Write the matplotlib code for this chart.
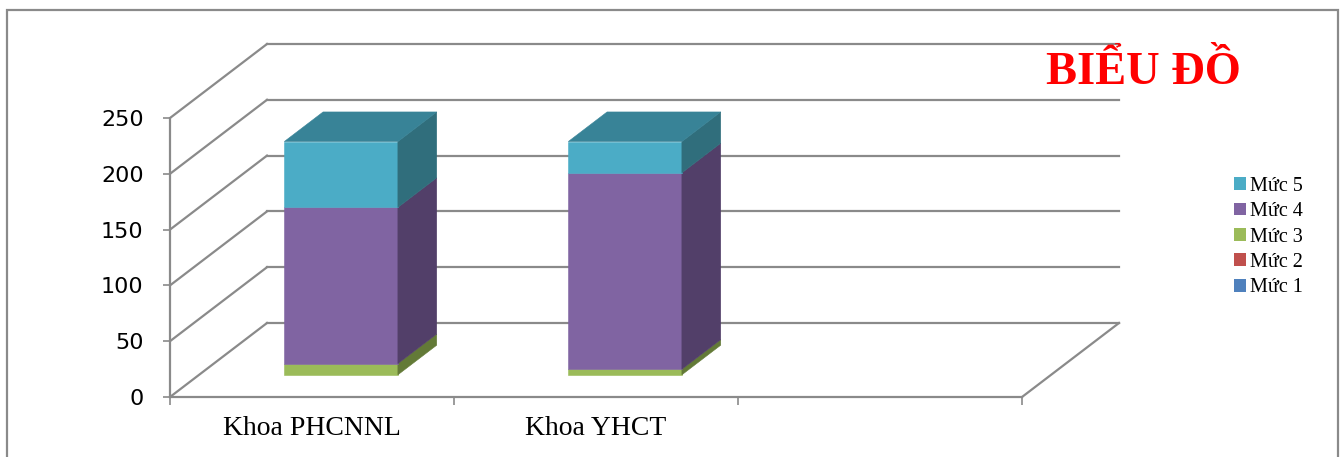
import numpy as np
import matplotlib as mpl
mpl.use("Agg")
import matplotlib.pyplot as plt
from matplotlib.patches import Polygon, Rectangle, Patch

mpl.rcParams.update({"font.family": "DejaVu Sans"})
SERIF = "Liberation Serif"
GRID = "#8a8a8a"

categories = ["Khoa PHCNNL", "Khoa YHCT"]
levels = ["Mức 1", "Mức 2", "Mức 3", "Mức 4", "Mức 5"]
muc1 = [0, 0]
muc2 = [0, 0]
muc3 = [10, 5]
muc4 = [140, 176]
muc5 = [59, 28]
yticks = [0, 50, 100, 150, 200, 250]

# front / side / top shades for each level
front = ["#4F81BD", "#C0504D", "#9BBB59", "#8064A2", "#4BACC6"]
side = ["#3A5F8C", "#8E3B39", "#637A37", "#523F69", "#306E7C"]
top = ["#41699A", "#9C4340", "#7E9848", "#674F85", "#388397"]

# oblique depth of the plot box (category units, value units)
DX, DY = 97 / 284, 74 / 1.116
F1, F2 = 0.3, 0.7      # bar sits between these depth fractions
HALF = 0.2             # half bar width

W, H = 1343, 457
fig = plt.figure(figsize=(W / 100, H / 100), dpi=100)
ax = fig.add_axes([170 / W, 0, 1 - 170 / W, 1])
ax.set_xlim(0, (W - 170) / 284)
ax.set_ylim((397 - H) / 1.116, 397 / 1.116)

# walls: back gridlines and left-wall diagonals
for v in yticks:
    ax.plot([DX, 3 + DX], [v + DY, v + DY], color=GRID, lw=1.6, zorder=1)
    ax.plot([0, DX], [v, v + DY], color=GRID, lw=1.6, zorder=1)
ax.plot([3, 3 + DX], [0, DY], color=GRID, lw=1.6, zorder=1)


def face(pts, c):
    ax.add_patch(Polygon(pts, closed=True, fc=c, ec=c, lw=0.4, zorder=3))


stack = np.array([muc1, muc2, muc3, muc4, muc5], dtype=float)
cum = np.vstack([np.zeros(len(categories)), np.cumsum(stack, axis=0)])
for i in range(len(categories)):
    xl, xr = i + 0.5 - HALF, i + 0.5 + HALF
    a, b = (F1 * DX, F1 * DY), (F2 * DX, F2 * DY)
    for k in range(len(levels)):
        y0, y1 = cum[k, i], cum[k + 1, i]
        if y1 <= y0:
            continue
        face([(xl + a[0], y0 + a[1]), (xr + a[0], y0 + a[1]),
              (xr + a[0], y1 + a[1]), (xl + a[0], y1 + a[1])], front[k])
        face([(xr + a[0], y0 + a[1]), (xr + b[0], y0 + b[1]),
              (xr + b[0], y1 + b[1]), (xr + a[0], y1 + a[1])], side[k])
    kt = max(k for k in range(len(levels)) if stack[k, i] > 0)
    yt = cum[-1, i]
    face([(xl + a[0], yt + a[1]), (xr + a[0], yt + a[1]),
          (xr + b[0], yt + b[1]), (xl + b[0], yt + b[1])], top[kt])

# axes
for s in ("top", "right"):
    ax.spines[s].set_visible(False)
ax.spines["left"].set_bounds(0, 250)
ax.spines["left"].set_color(GRID)
ax.spines["left"].set_linewidth(1.6)
ax.spines["bottom"].set_position(("data", 0))
ax.spines["bottom"].set_bounds(0, 3)
ax.spines["bottom"].set_color(GRID)
ax.spines["bottom"].set_linewidth(1.6)
ax.set_yticks(yticks)
ax.tick_params(axis="y", direction="out", length=5, width=1.2, color=GRID,
               pad=14, labelsize=16, labelcolor="black")
ax.set_xticks([0.5, 1.5])
ax.set_xticklabels(categories, fontfamily=SERIF, fontsize=20)
ax.set_xticks([0, 1, 2, 3], minor=True)
ax.tick_params(axis="x", which="major", length=0, pad=14)
ax.tick_params(axis="x", which="minor", direction="out", length=6, width=1.2, color=GRID)

handles = [Patch(fc=front[k], ec="none") for k in range(len(levels))][::-1]
ax.legend(handles, levels[::-1], loc="center left", bbox_to_anchor=(1234 / W, 1 - 237 / H),
          bbox_transform=fig.transFigure, frameon=False, prop={"family": SERIF, "size": 14.5},
          handlelength=0.6, handleheight=0.6, handletextpad=0.2, labelspacing=0.32,
          borderaxespad=0, borderpad=0)

fig.text(1143 / W, 1 - 84 / H, "BIỂU ĐỒ", color="red", fontfamily=SERIF, fontweight="bold",
         fontsize=33.5, ha="center", va="baseline")

fig.add_artist(Rectangle((7 / W, -20 / H), 1331 / W, (H + 10) / H, transform=fig.transFigure,
                         fill=False, ec=GRID, lw=1.6))

fig.savefig("out.png", dpi=100)
